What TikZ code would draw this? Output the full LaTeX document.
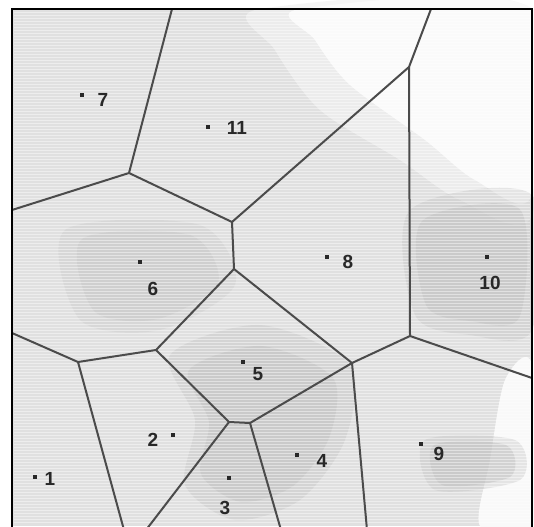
\documentclass[tikz,border=0pt]{standalone}
\usepackage{fontspec}
\setsansfont{Liberation Sans}
\usetikzlibrary{positioning}
\definecolor{cellgray}{RGB}{224,224,224}
\definecolor{darkcell}{RGB}{190,190,190}
\definecolor{edgegray}{RGB}{75,75,75}
\definecolor{labelgray}{RGB}{40,40,40}

\begin{document}
\begin{tikzpicture}[
    x=1pt, y=-1pt,
    site/.style={rectangle, fill=labelgray, inner sep=0pt, minimum size=4.5pt},
    num/.style={text=labelgray, inner sep=0pt, font=\sffamily\bfseries\fontsize{19}{19}\selectfont},
    cut/.style={draw=edgegray, line width=2pt, line join=round},
]
\useasboundingbox (0,0) rectangle (534,526);

% scanned background
\fill[white] (0,0) rectangle (534,526);
\fill[cellgray] (12,9) rectangle (532,526);
\fill[white!90!gray, opacity=0.7] plot[smooth cycle] coordinates {(260,9) (532,9) (532,215) (460,200) (400,160) (320,110) (275,50)};
\fill[white!96!gray] plot[smooth cycle] coordinates {(300,9) (532,9) (532,195) (475,180) (425,140) (350,85) (315,40)};
\fill[white!95!gray] plot[smooth cycle] coordinates {(505,380) (532,365) (532,526) (480,526) (490,460)};
% darker patches
\foreach \o/\s in {0.35/1, 0.45/0.8}{
\begin{scope}[shift={(470,265)}, scale=\s]
\fill[darkcell, opacity=\o] plot[smooth cycle] coordinates {(-60,-55) (62,-70) (62,65) (0,70) (-55,50)};
\end{scope}
\begin{scope}[shift={(265,430)}, scale=\s]
\fill[darkcell, opacity=\o] plot[smooth cycle] coordinates {(-95,-75) (-5,-105) (85,-65) (80,10) (35,70) (-30,90) (-80,55) (-70,-10)};
\end{scope}
\begin{scope}[shift={(150,275)}, scale=\s]
\fill[darkcell, opacity=\o*0.7] plot[smooth cycle] coordinates {(-85,-45) (50,-50) (85,10) (10,55) (-70,45)};
\end{scope}
\begin{scope}[shift={(470,465)}, scale=\s]
\fill[darkcell, opacity=\o] plot[smooth cycle] coordinates {(-45,-25) (45,-25) (50,15) (-35,25)};
\end{scope}
}
\foreach \y in {12,15,...,524}
    \draw[white, opacity=0.45, line width=0.8pt] (14,\y) -- (530,\y);

% Voronoi vertices
\coordinate (a) at (129,173);
\coordinate (b) at (232,222);
\coordinate (c) at (234,269);
\coordinate (d) at (409,67);
\coordinate (e) at (410,336);
\coordinate (f) at (352,363);
\coordinate (g) at (229,422);
\coordinate (h) at (250,423);
\coordinate (i) at (156,350);
\coordinate (j) at (78,362);
% ends on the frame
\coordinate (top1) at (172,9);
\coordinate (top2) at (431,9);
\coordinate (left1) at (12,210);
\coordinate (left2) at (12,333);
\coordinate (right1) at (532,378);
\coordinate (bot1) at (124,530);
\coordinate (bot2) at (146,530);
\coordinate (bot3) at (281,530);
\coordinate (bot4) at (367,530);

% cell edges
\draw[cut] (top1) -- (a);
\draw[cut] (left1) -- (a);
\draw[cut] (a) -- (b);
\draw[cut] (b) -- (c);
\draw[cut] (b) -- (d);
\draw[cut] (d) -- (top2);
\draw[cut] (d) -- (e);
\draw[cut] (e) -- (right1);
\draw[cut] (e) -- (f);
\draw[cut] (c) -- (f);
\draw[cut] (f) -- (bot4);
\draw[cut] (f) -- (h);
\draw[cut] (h) -- (g);
\draw[cut] (h) -- (bot3);
\draw[cut] (g) -- (bot2);
\draw[cut] (g) -- (i);
\draw[cut] (c) -- (i);
\draw[cut] (i) -- (j);
\draw[cut] (j) -- (left2);
\draw[cut] (j) -- (bot1);

% sites
\node[site] (s1) at (35,477) {};
\node[site] (s2) at (173,435) {};
\node[site] (s3) at (229,478) {};
\node[site] (s4) at (297,455) {};
\node[site] (s5) at (243,362) {};
\node[site] (s6) at (140,262) {};
\node[site] (s7) at (82,95) {};
\node[site] (s8) at (327,257) {};
\node[site] (s9) at (421,444) {};
\node[site] (s10) at (487,257) {};
\node[site] (s11) at (208,127) {};

% site numbers
\node[num] (n1) at (50,479) {1};
\node[num] (n2) at (153,440) {2};
\node[num] (n3) at (225,508) {3};
\node[num] (n4) at (322,461) {4};
\node[num] (n5) at (258,374) {5};
\node[num] (n6) at (153,289) {6};
\node[num] (n7) at (103,100) {7};
\node[num] (n8) at (348,262) {8};
\node[num] (n9) at (439,454) {9};
\node[num] (n10) at (490,283) {10};
\node[num] (n11) at (237,128) {11};

% frame
\draw[black, line width=2.8pt] (12,530) -- (12,9) -- (532,9) -- (532,530);
\end{tikzpicture}
\end{document}
